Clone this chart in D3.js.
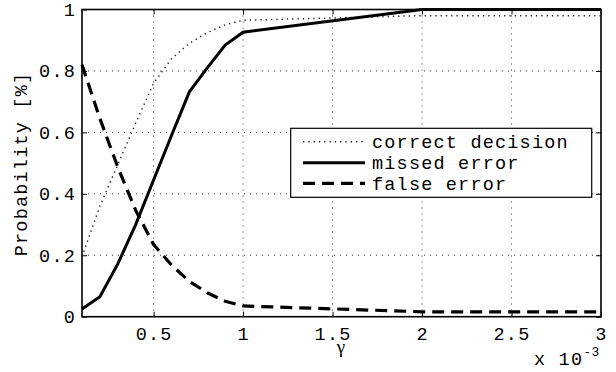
<!DOCTYPE html>
<html>
<head>
<meta charset="utf-8">
<script src="https://cdn.jsdelivr.net/npm/d3@7"></script>
<style>
  body { margin: 0; background: #fff; }
  svg { display: block; }
</style>
</head>
<body>
<script>
// data (gamma in units of 1e-3)
const gammaVals = [0.1, 0.2, 0.3, 0.4, 0.5, 0.6, 0.7, 0.8, 0.9, 1, 2, 3];
const correctDecision = [0.195, 0.36, 0.495, 0.63, 0.76, 0.84, 0.89, 0.925, 0.95, 0.965, 0.98, 0.98];
const missedError = [0.025, 0.065, 0.172, 0.3, 0.445, 0.59, 0.732, 0.81, 0.884, 0.926, 1, 1];
const falseError = [0.82, 0.645, 0.487, 0.346, 0.235, 0.168, 0.115, 0.078, 0.05, 0.035, 0.016, 0.016];
const xTicks = [0.5, 1, 1.5, 2, 2.5, 3];
const yTicks = [0, 0.2, 0.4, 0.6, 0.8, 1];
const seriesNames = ["correct decision", "missed error", "false error"];

const w = 616;
const h = 372;
const padL = 82, padR = 601, padT = 9.5, padB = 316.7;
const font = "'Liberation Mono', 'Courier New', monospace";
const fs = 18.5;
const ls = 1.2; // widen the glyph advance to courier-like 12.3px

const xScale = d3.scaleLinear().domain([0.1, 3]).range([padL, padR]);
const yScale = d3.scaleLinear().domain([0, 1]).range([padB, padT]);

const svg = d3.select("body").append("svg").attr("width", w).attr("height", h);

// grid
svg.append("g")
  .selectAll("line")
  .data(xTicks.slice(0, -1))
  .enter()
  .append("line")
  .attr("x1", (d) => xScale(d))
  .attr("x2", (d) => xScale(d))
  .attr("y1", padT)
  .attr("y2", padB)
  .attr("stroke", "#333")
  .attr("stroke-width", 1)
  .attr("stroke-dasharray", "1,5");

svg.append("g")
  .selectAll("line")
  .data(yTicks.slice(1, -1))
  .enter()
  .append("line")
  .attr("x1", padL)
  .attr("x2", padR)
  .attr("y1", (d) => yScale(d))
  .attr("y2", (d) => yScale(d))
  .attr("stroke", "#333")
  .attr("stroke-width", 1)
  .attr("stroke-dasharray", "1,5");

// axes (ticks inside, mirrored on top/right)
const xAxis = d3.axisBottom(xScale).tickValues(xTicks).tickSize(-5).tickPadding(10).tickFormat(d3.format(""));
const yAxis = d3.axisLeft(yScale).tickValues(yTicks).tickSize(-5).tickPadding(6).tickFormat(d3.format(""));

svg.append("g")
  .attr("transform", "translate(0," + padB + ")")
  .call(xAxis)
  .call((g) => g.select(".domain").remove())
  .attr("font-family", font)
  .attr("font-size", fs)
  .attr("letter-spacing", ls);

svg.append("g")
  .attr("transform", "translate(" + padL + ",0)")
  .call(yAxis)
  .call((g) => g.select(".domain").remove())
  .attr("font-family", font)
  .attr("font-size", fs)
  .attr("letter-spacing", ls);

svg.append("g")
  .attr("transform", "translate(0," + padT + ")")
  .call(d3.axisTop(xScale).tickValues(xTicks).tickSize(-5).tickFormat(""))
  .call((g) => g.select(".domain").remove());

svg.append("g")
  .attr("transform", "translate(" + padR + ",0)")
  .call(d3.axisRight(yScale).tickValues(yTicks).tickSize(-5).tickFormat(""))
  .call((g) => g.select(".domain").remove());

svg.selectAll(".tick line").attr("stroke", "#000").attr("stroke-width", 1);
svg.selectAll(".tick text").attr("fill", "#000");

// box
svg.append("rect")
  .attr("x", padL)
  .attr("y", padT)
  .attr("width", padR - padL)
  .attr("height", padB - padT)
  .attr("fill", "none")
  .attr("stroke", "#000")
  .attr("stroke-width", 1.6);

// lines
const line = (vals) =>
  d3.line()
    .x((d, i) => xScale(gammaVals[i]))
    .y((d) => yScale(d))(vals);

const styles = [
  { vals: correctDecision, width: 1.5, dash: "1.3,4", color: "#222" },
  { vals: missedError, width: 3, dash: null, color: "#000" },
  { vals: falseError, width: 3.2, dash: "12,7", color: "#000" }
];

styles.forEach((s) => {
  svg.append("path")
    .attr("d", line(s.vals))
    .attr("fill", "none")
    .attr("stroke", s.color)
    .attr("stroke-width", s.width)
    .attr("stroke-dasharray", s.dash);
});

// legend
const legend = svg.append("g");
legend.append("rect")
  .attr("x", 290.7)
  .attr("y", 128.3)
  .attr("width", 301)
  .attr("height", 69)
  .attr("fill", "#fff")
  .attr("stroke", "#000")
  .attr("stroke-width", 1.2);

const rowY = [141.7, 162.8, 183.3];
styles.forEach((s, i) => {
  legend.append("line")
    .attr("x1", 303)
    .attr("x2", 365)
    .attr("y1", rowY[i])
    .attr("y2", rowY[i])
    .attr("stroke", s.color)
    .attr("stroke-width", s.width)
    .attr("stroke-dasharray", s.dash);
  legend.append("text")
    .attr("x", 372)
    .attr("y", rowY[i])
    .attr("dy", "0.35em")
    .attr("font-family", font)
    .attr("font-size", fs)
    .attr("letter-spacing", ls)
    .text(seriesNames[i]);
});

// labels
svg.append("text")
  .attr("transform", "translate(27," + 164 + ") rotate(-90)")
  .attr("text-anchor", "middle")
  .attr("font-family", font)
  .attr("font-size", fs)
  .attr("letter-spacing", ls)
  .text("Probability [%]");

svg.append("text")
  .attr("x", 341)
  .attr("y", 353)
  .attr("text-anchor", "middle")
  .attr("font-family", "'Liberation Serif', serif")
  .attr("font-size", 19)
  .text("γ");

const expo = svg.append("text")
  .attr("x", 534)
  .attr("y", 365)
  .attr("font-family", font)
  .attr("font-size", fs)
  .attr("letter-spacing", ls);
expo.append("tspan").text("x 10");
expo.append("tspan")
  .attr("font-size", 13)
  .attr("letter-spacing", 0.5)
  .attr("dy", -9)
  .text("-3");
</script>
</body>
</html>
